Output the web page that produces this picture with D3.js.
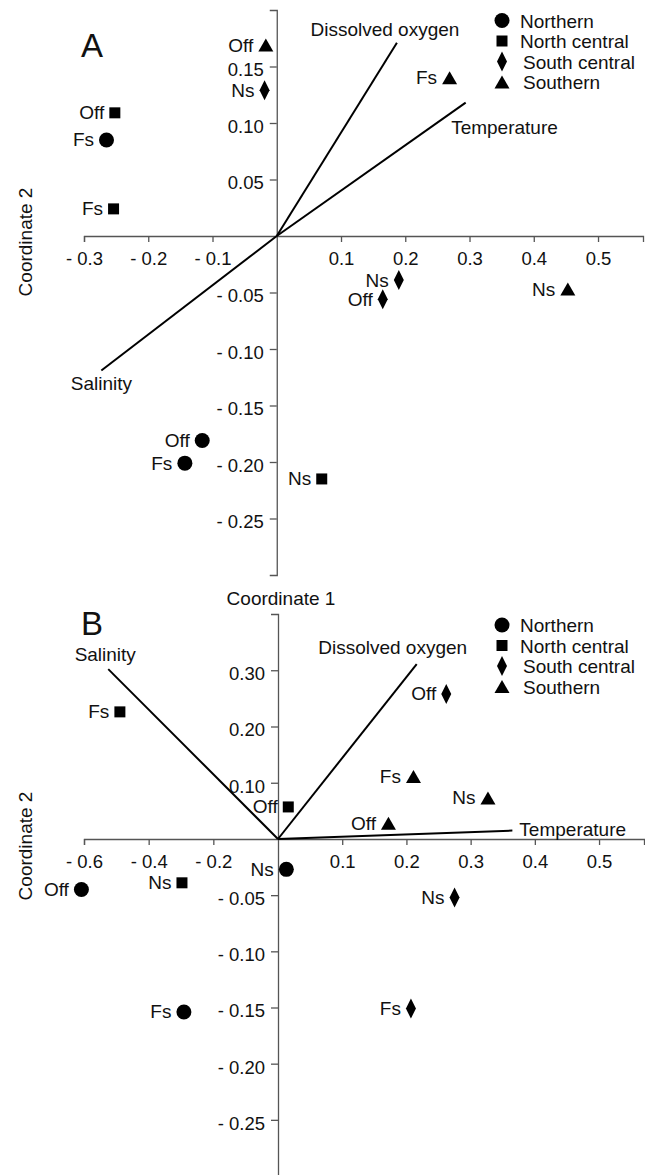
<!DOCTYPE html>
<html><head><meta charset="utf-8">
<script src="https://cdn.jsdelivr.net/npm/d3@7"></script>
<style>
body{margin:0;background:#fff;}
svg{display:block;font-family:"Liberation Sans", Arial, sans-serif;}
</style></head><body>
<svg id="chart" width="645" height="1175"></svg>
<script>
// ---------- DATA ----------
const regions = ["Northern", "North central", "South central", "Southern"];
const regionShapes = ["circle", "square", "diamond", "triangle"];
const vectorNames = ["Dissolved oxygen", "Temperature", "Salinity"];

// Panel A
const siteA   = ["Fs", "Off", "Fs",   "Off", "Fs", "Ns",   "Ns", "Ns", "Off",   "Off", "Fs", "Ns"];
const regionA = [0, 0, 0,   1, 1, 1,   2, 2, 2,   3, 3, 3];
const coord1A = [-0.265, -0.116, -0.143,   -0.252, -0.254, 0.070,   -0.019, 0.190, 0.165,   -0.017, 0.269, 0.453];
const coord2A = [0.085, -0.181, -0.201,    0.109, 0.024, -0.215,    0.129, -0.039, -0.056,   0.169, 0.140, -0.047];
const vec1A = [0.187, 0.294, -0.273];
const vec2A = [0.171, 0.118, -0.119];
const xTicksA = [-0.3, -0.2, -0.1, 0.1, 0.2, 0.3, 0.4, 0.5];
const yTicksA = [0.15, 0.10, 0.05, -0.05, -0.10, -0.15, -0.20, -0.25];

// Panel B
const siteB   = ["Ns", "Off", "Fs",   "Fs", "Off", "Ns",   "Off", "Ns", "Fs",   "Fs", "Ns", "Off"];
const regionB = [0, 0, 0,   1, 1, 1,   2, 2, 2,   3, 3, 3];
const coord1B = [0.013, -0.608, -0.291,   -0.489, 0.016, -0.297,   0.262, 0.275, 0.207,   0.211, 0.327, 0.172];
const coord2B = [-0.027, -0.045, -0.154,  0.226, 0.057, -0.039,    0.258, -0.052, -0.151,  0.111, 0.073, 0.028];
const vec1B = [0.216, 0.365, -0.525];
const vec2B = [0.311, 0.015, 0.302];
const xTicksB = [-0.6, -0.4, -0.2, 0.1, 0.2, 0.3, 0.4, 0.5];
const yTicksB = [0.30, 0.20, 0.10, -0.05, -0.10, -0.15, -0.20, -0.25];

// ---------- LAYOUT ----------
const svg = d3.select("#chart");
const AXIS_COLOR = "#555";
const shapeHalfW = {circle: 7.5, square: 5.5, diamond: 5, triangle: 7.5};

function shapePath(type) {
  const p = d3.path();
  if (type === "circle") { p.moveTo(7.5, 0); p.arc(0, 0, 7.5, 0, 2 * Math.PI); }
  else if (type === "square") { p.rect(-5.5, -5.5, 11, 11); }
  else if (type === "diamond") { p.moveTo(0, -10); p.lineTo(5, 0); p.lineTo(0, 10); p.lineTo(-5, 0); p.closePath(); }
  else { p.moveTo(0, -6.5); p.lineTo(7.5, 6.5); p.lineTo(-7.5, 6.5); p.closePath(); }
  return p.toString();
}

const fmtX = d => d < 0 ? "- " + Math.abs(d).toFixed(1) : d.toFixed(1);
const fmtY = d => d < 0 ? "- " + Math.abs(d).toFixed(2) : d.toFixed(2);

function drawPanel(cfg) {
  const g = svg.append("g");
  const x = d3.scaleLinear().domain(cfg.xDomain).range(cfg.xRange);
  const y = d3.scaleLinear().domain(cfg.yDomain).range(cfg.yRange);
  const ox = x(0), oy = y(0);

  // axes
  const xAxis = g.append("g").attr("transform", `translate(0,${oy})`)
    .call(d3.axisBottom(x).tickValues(cfg.xTicks).tickFormat(fmtX).tickSizeOuter(0).tickSize(6).tickPadding(10));
  const yAxis = g.append("g").attr("transform", `translate(${ox},0)`)
    .call(d3.axisLeft(y).tickValues(cfg.yTicks).tickFormat(fmtY).tickSizeOuter(0).tickSize(7).tickPadding(6));
  [xAxis, yAxis].forEach(a => {
    a.select(".domain").attr("stroke", AXIS_COLOR).attr("stroke-width", 1.3);
    a.selectAll(".tick line").attr("stroke", AXIS_COLOR).attr("stroke-width", 1.3);
    a.selectAll(".tick text").attr("fill", "#111").style("font-size", "18.5px")
      .style("font-family", '"Liberation Sans", Arial, sans-serif');
  });
  yAxis.selectAll(".tick text").attr("y", 3.5);

  // vectors
  vectorNames.forEach((name, i) => {
    const ex = x(cfg.v1[i]), ey = y(cfg.v2[i]);
    g.append("line").attr("x1", ox).attr("y1", oy).attr("x2", ex).attr("y2", ey)
      .attr("stroke", "#000").attr("stroke-width", 2);
    const lp = cfg.vecLabel[i];
    g.append("text").attr("x", ex + lp[0]).attr("y", ey + lp[1]).attr("text-anchor", lp[2])
      .style("font-size", "19px").attr("fill", "#111").text(name);
  });

  // points
  cfg.site.forEach((s, i) => {
    const shape = regionShapes[cfg.region[i]];
    const px = x(cfg.c1[i]), py = y(cfg.c2[i]);
    g.append("path").attr("d", shapePath(shape)).attr("transform", `translate(${px},${py})`).attr("fill", "#000");
    g.append("text").attr("x", px - shapeHalfW[shape] - 5).attr("y", py + 6.5)
      .attr("text-anchor", "end").style("font-size", "19px").attr("fill", "#111").text(s);
  });

  // legend
  const lg = g.append("g").attr("transform", `translate(502,${cfg.legendTop})`);
  regions.forEach((r, i) => {
    const ly = [0, 20.5, 41, 61.5][i];
    lg.append("path").attr("d", shapePath(regionShapes[i])).attr("transform", `translate(0,${ly})`).attr("fill", "#000");
    lg.append("text").attr("x", i < 2 ? 18 : 21).attr("y", ly + 7).style("font-size", "19px").attr("fill", "#111").text(r);
  });

  // panel letter
  g.append("text").attr("x", 81).attr("y", cfg.letterY).style("font-size", "33px").attr("fill", "#111").text(cfg.letter);

  // y title
  g.append("text").attr("transform", `translate(32,${cfg.yTitleY}) rotate(-90)`)
    .attr("text-anchor", "middle").style("font-size", "19px").attr("fill", "#111").text("Coordinate 2");
  return {x, y};
}

const A = drawPanel({
  xDomain: [-0.3, 0.57], xRange: [84, 643],
  yDomain: [-0.3, 0.2], yRange: [575, 10],
  xTicks: xTicksA, yTicks: yTicksA,
  site: siteA, region: regionA, c1: coord1A, c2: coord2A,
  v1: vec1A, v2: vec2A,
  vecLabel: [[-12, -6.5, "middle"], [-14.5, 31, "start"], [0, 20, "middle"]],
  legendTop: 20.5, letter: "A", letterY: 57, yTitleY: 242
});

svg.append("text").attr("x", 281).attr("y", 605).attr("text-anchor", "middle")
  .style("font-size", "19px").attr("fill", "#111").text("Coordinate 1");

const B = drawPanel({
  xDomain: [-0.6, 0, 0.57], xRange: [84, 278, 644],
  yDomain: [-0.3, 0, 0.4], yRange: [1176, 839, 614],
  xTicks: xTicksB, yTicks: yTicksB,
  site: siteB, region: regionB, c1: coord1B, c2: coord2B,
  v1: vec1B, v2: vec2B,
  vecLabel: [[-24, -10, "middle"], [7, 5.5, "start"], [-3, -8, "middle"]],
  legendTop: 625, letter: "B", letterY: 635, yTitleY: 846
});
</script>
</body></html>
